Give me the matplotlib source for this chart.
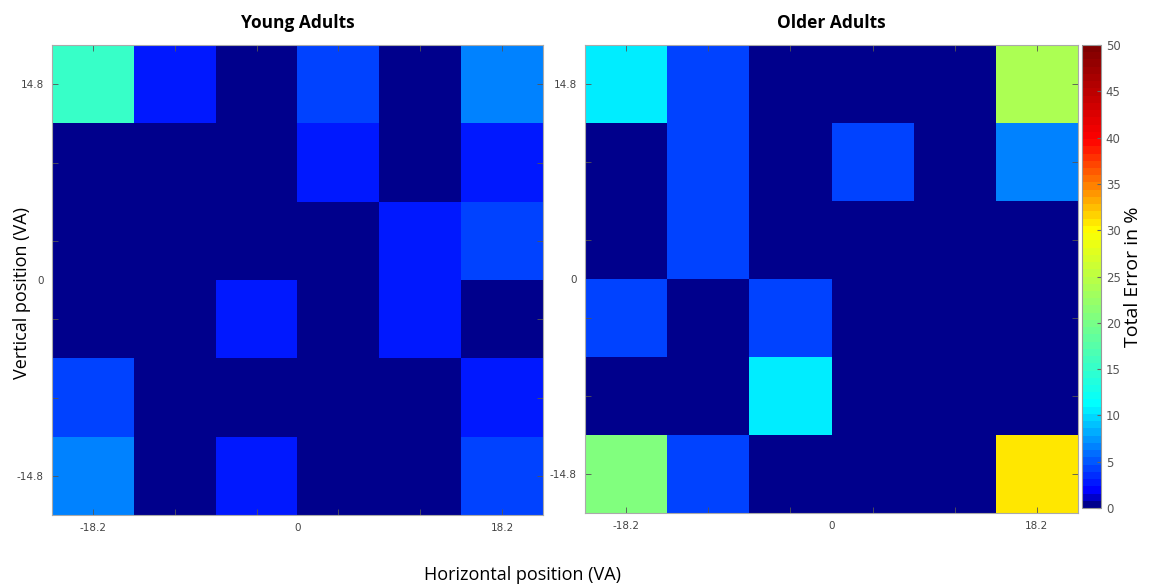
import numpy as np
import matplotlib.pyplot as plt
from matplotlib.colors import LinearSegmentedColormap

# error in % per target location, rows from top (14.8) to bottom (-14.8)
young_err = [
    [15.0, 2.6, 0.0, 4.0, 0.0, 6.5],
    [0.0, 0.0, 0.0, 2.8, 0.0, 2.8],
    [0.0, 0.0, 0.0, 0.0, 2.8, 4.0],
    [0.0, 0.0, 2.8, 0.0, 2.8, 0.0],
    [4.0, 0.0, 0.0, 0.0, 0.0, 2.8],
    [6.5, 0.0, 2.8, 0.0, 0.0, 4.0],
]
older_err = [
    [10.5, 4.3, 0.0, 0.0, 0.0, 24.0],
    [0.0, 4.3, 0.0, 4.3, 0.0, 6.3],
    [0.0, 4.3, 0.0, 0.0, 0.0, 0.0],
    [4.3, 0.0, 4.3, 0.0, 0.0, 0.0],
    [0.0, 0.0, 10.5, 0.0, 0.0, 0.0],
    [21.0, 4.3, 0.0, 0.0, 0.0, 30.5],
]
titles = ["Young Adults", "Older Adults"]
x_centers = np.linspace(-18.2, 18.2, 6)
y_centers = np.linspace(14.8, -14.8, 6)
x_labels = ["-18.2", "0", "18.2"]
y_labels = ["14.8", "0", "-14.8"]

cmap = LinearSegmentedColormap.from_list(
    "jetlike",
    [(0.0, (0, 0, 0.55)), (0.03, (0, 0, 1)), (0.22, (0, 1, 1)),
     (0.6, (1, 1, 0)), (0.8, (1, 0, 0)), (1.0, (0.5, 0, 0))], N=64)

dx = x_centers[1] - x_centers[0]
dy = y_centers[0] - y_centers[1]
x_edges = np.append(x_centers - dx / 2, x_centers[-1] + dx / 2)
y_edges = np.append(y_centers + dy / 2, y_centers[-1] - dy / 2)

fig = plt.figure(figsize=(11.51, 5.86), dpi=100)
tick_font = ["Liberation Sans Narrow", "DejaVu Sans Condensed", "DejaVu Sans"]
label_font = ["Open Sans", "DejaVu Sans"]

rects = [[52 / 1151, 71 / 586, 491 / 1151, 470 / 586],
         [585 / 1151, 73 / 586, 493 / 1151, 468 / 586]]
for rect, data, title in zip(rects, [young_err, older_err], titles):
    ax = fig.add_axes(rect)
    mesh = ax.pcolormesh(x_edges, y_edges, np.array(data), cmap=cmap, vmin=0, vmax=50)
    ax.set_xlim(x_edges[0], x_edges[-1])
    ax.set_ylim(y_edges[-1], y_edges[0])
    # tick marks at cell centres, labels only at the outer cells and 0
    ax.xaxis.remove_overlapping_locs = False
    ax.yaxis.remove_overlapping_locs = False
    ax.set_xticks([x_centers[0], 0, x_centers[-1]])
    ax.set_xticklabels(x_labels)
    ax.set_yticks([y_centers[0], 0, y_centers[-1]])
    ax.set_yticklabels(y_labels)
    ax.set_xticks(x_centers, minor=True)
    ax.set_yticks(y_centers, minor=True)
    ax.tick_params(which="major", length=0, labelsize=7.5, labelcolor="#444444", pad=6)
    ax.tick_params(which="minor", direction="in", length=4, color="#555555",
                   top=True, right=True, width=0.6)
    for lab in ax.get_xticklabels() + ax.get_yticklabels():
        lab.set_family(tick_font)
    for s in ax.spines.values():
        s.set_color("#aaaaaa")
    ax.set_title(title, fontsize=12.5, fontweight="bold", family=label_font, pad=12)

cax = fig.add_axes([1082 / 1151, 78 / 586, 19 / 1151, 463 / 586])
cb = fig.colorbar(mesh, cax=cax, ticks=range(0, 51, 5))
cb.outline.set_edgecolor("#999999")
cax.tick_params(direction="in", length=3, labelsize=8.5, labelcolor="#555555", color="#666666")
for lab in cax.get_yticklabels():
    lab.set_family(tick_font)
cb.set_label("Total Error in %", fontsize=14, family=label_font, labelpad=2)

fig.text(522 / 1151, 11 / 586, "Horizontal position (VA)", ha="center", va="center",
         fontsize=13, family=label_font)
fig.text(22 / 1151, 0.5, "Vertical position (VA)", ha="center", va="center",
         rotation=90, fontsize=13, family=label_font)

fig.savefig("out.png", dpi=100)
